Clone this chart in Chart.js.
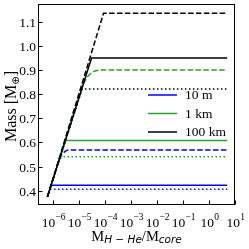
<!DOCTYPE html>
<html><head><meta charset="utf-8">
<script src="https://cdn.jsdelivr.net/npm/chart.js@4"></script>
<style>html,body{margin:0;padding:0;background:#fff}</style>
</head><body>
<canvas id="grafica" width="249" height="249"></canvas>
<script>
// axis ticks and legend
const xTickExps=[-6,-5,-4,-3,-2,-1,0,1];
const yTicks=[0.4,0.5,0.6,0.7,0.8,0.9,1.0,1.1];
const legendLabels=['10 m','1 km','100 km'];
const legendColors=['#0000ff','#2ca02c','#000000'];

// [M_H-He/M_core, mass]
const blueSolid=[[6e-7,0.375],[8.3e-7,0.423],[5,0.423]];
const blueDashed=[[6e-7,0.375],[1.7e-6,0.53],[2.2e-6,0.551],[2.8e-6,0.562],[3.5e-6,0.568],[5e-6,0.569],[5,0.569]];
const blueDotted=[[6e-7,0.375],[7.4e-7,0.406],[5,0.406]];
const greenSolid=[[6e-7,0.375],[2.9e-6,0.608],[5,0.608]];
const greenDashed=[[6e-7,0.375],[1.1e-5,0.80],[1.5e-5,0.845],[2e-5,0.870],[2.8e-5,0.886],[4e-5,0.896],[6e-5,0.90],[5,0.90]];
const greenDotted=[[6e-7,0.375],[1.6e-6,0.52],[2e-6,0.535],[2.6e-6,0.541],[5,0.541]];
const blackSolid=[[6e-7,0.375],[3e-5,0.949],[5,0.949]];
const blackDashed=[[6e-7,0.375],[8.7e-5,1.135],[5,1.135]];
const blackDotted=[[6e-7,0.375],[1.3e-5,0.821],[5,0.821]];

const DASH=[5.5,2.4], DOT=[1.5,2.5];
function ds(pts,color,dash,order){
  return {data:pts.map(p=>({x:p[0],y:p[1]})),borderColor:color,borderWidth:1.5,
    borderDash:dash,pointRadius:0,tension:0,fill:false,order:order};
}

const deco={id:'deco',afterDraw(c){
  const g=c.ctx,a=c.chartArea,xs=c.scales.x,ys=c.scales.y;
  g.save();
  g.strokeStyle='#000';g.lineWidth=1;
  const L=Math.round(a.left)+0.5,R=Math.round(a.right)-0.5,T=Math.round(a.top)+0.5,B=Math.round(a.bottom)-0.5;
  g.strokeRect(L,T,R-L,B-T);
  g.fillStyle='#000';
  // x ticks
  xTickExps.forEach(e=>{
    const px=Math.round(xs.getPixelForValue(Math.pow(10,e)))+0.5;
    g.beginPath();g.moveTo(px,B);g.lineTo(px,B-4);g.stroke();
    g.font="13.5px 'Liberation Serif'";
    const w1=g.measureText('10').width;
    const sup=(e<0?'\u2212':'')+Math.abs(e);
    g.font="9.5px 'Liberation Serif'";
    const w2=g.measureText(sup).width;
    const x0=px-(w1+w2)/2;
    g.textBaseline='alphabetic';g.textAlign='left';
    g.font="13.5px 'Liberation Serif'";g.fillText('10',x0,227);
    g.font="9.5px 'Liberation Serif'";g.fillText(sup,x0+w1+0.3,220);
  });
  // y ticks
  g.font="13.5px 'Liberation Serif'";g.textAlign='right';g.textBaseline='middle';
  yTicks.forEach(v=>{
    const py=Math.round(ys.getPixelForValue(v))+0.5;
    g.beginPath();g.moveTo(L,py);g.lineTo(L+4,py);g.stroke();
    g.fillText(v.toFixed(1),a.left-2,py+0.5);
  });
  // x title
  const parts=[['M',"14.5px 'Liberation Serif'",0],['H \u2212 He',"italic 10.5px 'DejaVu Sans'",2.5],
    ['/M',"14.5px 'Liberation Serif'",0],['core',"italic 10.5px 'DejaVu Sans'",2.5]];
  let tw=0;parts.forEach(p=>{g.font=p[1];tw+=g.measureText(p[0]).width;});
  let cx=(a.left+a.right)/2-tw/2;
  g.textAlign='left';g.textBaseline='alphabetic';
  parts.forEach(p=>{g.font=p[1];g.fillText(p[0],cx,240.5+p[2]);cx+=g.measureText(p[0]).width;});
  // y title
  g.save();g.translate(15.5,(a.top+a.bottom)/2+2);g.rotate(-Math.PI/2);
  const yp=[['Mass [M',"16px 'Liberation Serif'",0],['\u2295',"10px 'DejaVu Sans'",3],[']',"16px 'Liberation Serif'",0]];
  tw=0;yp.forEach(p=>{g.font=p[1];tw+=g.measureText(p[0]).width;});
  cx=-tw/2;
  yp.forEach(p=>{g.font=p[1];g.fillText(p[0],cx,p[2]);cx+=g.measureText(p[0]).width;});
  g.restore();
  // legend
  const ly=[95,113.5,132];
  g.lineWidth=1.5;g.font="13.5px 'Liberation Serif'";g.textBaseline='middle';
  legendLabels.forEach((t,i)=>{
    g.strokeStyle=legendColors[i];
    g.beginPath();g.moveTo(148,ly[i]);g.lineTo(177,ly[i]);g.stroke();
    g.fillText(t,185,ly[i]+0.5);
  });
  g.restore();
}};

new Chart(document.getElementById('grafica').getContext('2d'),{
  type:'line',
  data:{datasets:[
    ds(blueSolid,'#0000ff',[],3),ds(blueDashed,'#0000ff',DASH,3),ds(blueDotted,'#0000ff',DOT,3),
    ds(greenSolid,'#2ca02c',[],2),ds(greenDashed,'#2ca02c',DASH,2),ds(greenDotted,'#2ca02c',DOT,2),
    ds(blackSolid,'#000000',[],1),ds(blackDashed,'#000000',DASH,1),ds(blackDotted,'#000000',DOT,1)
  ]},
  options:{
    responsive:false,animation:false,events:[],
    layout:{padding:{left:38,top:4,right:14,bottom:44}},
    plugins:{legend:{display:false},tooltip:{enabled:false}},
    scales:{
      x:{type:'logarithmic',min:2.6e-7,max:10,display:false},
      y:{type:'linear',min:0.341,max:1.173,display:false}
    }
  },
  plugins:[deco]
});
</script>
</body></html>
